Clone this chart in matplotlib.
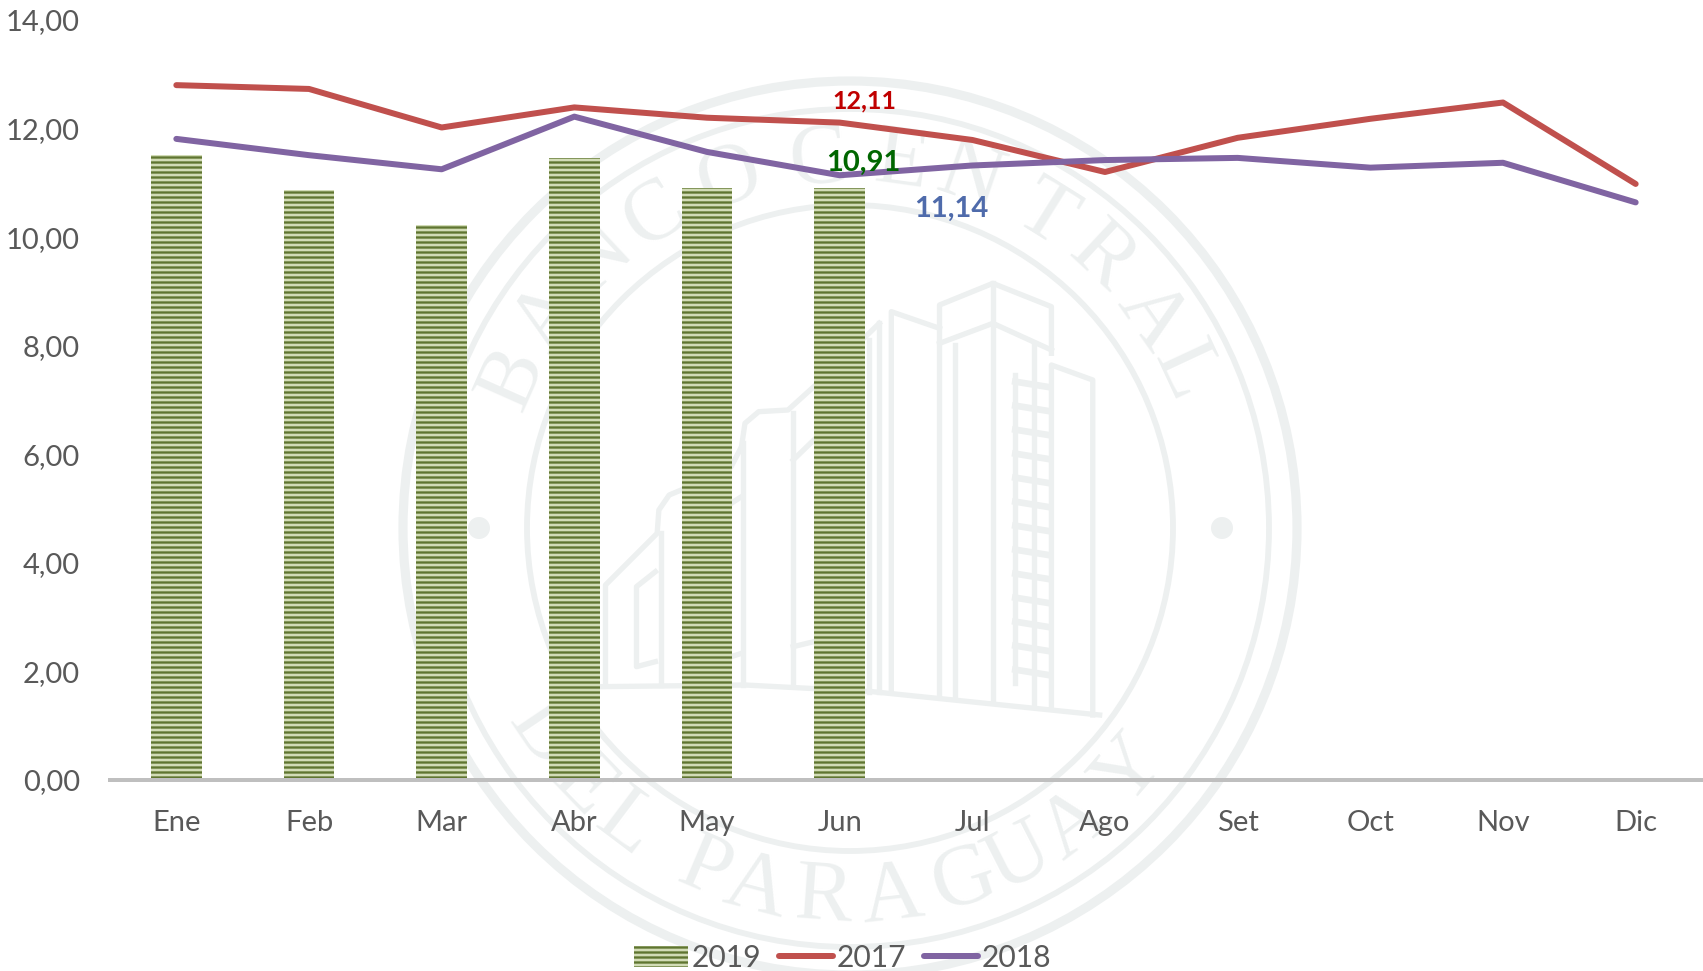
import matplotlib
matplotlib.use("Agg")
import matplotlib.pyplot as plt
import numpy as np

meses = ["Ene", "Feb", "Mar", "Abr", "May", "Jun", "Jul", "Ago", "Set", "Oct", "Nov", "Dic"]
v2017 = [12.80, 12.73, 12.02, 12.39, 12.20, 12.11, 11.79, 11.20, 11.83, 12.18, 12.48, 10.98]
v2018 = [11.81, 11.51, 11.25, 12.22, 11.57, 11.14, 11.32, 11.42, 11.46, 11.28, 11.37, 10.64]
v2019 = [11.52, 10.87, 10.22, 11.45, 10.90, 10.91]
yticks = [0, 2, 4, 6, 8, 10, 12, 14]
ylabels = ["0,00", "2,00", "4,00", "6,00", "8,00", "10,00", "12,00", "14,00"]

plt.rcParams["font.family"] = ["Lato", "DejaVu Sans"]
plt.rcParams["hatch.linewidth"] = 1.4

W, H = 1703, 971
DPI = 120
GRIS = "#595959"
WM = "#edf0f0"

fig = plt.figure(figsize=(W / DPI, H / DPI), dpi=DPI)

# marca de agua, en pixeles de la imagen
bg = fig.add_axes([0, 0, 1, 1], zorder=0)
bg.set_xlim(0, W)
bg.set_ylim(H, 0)
bg.axis("off")
cx, cy = 850, 528
bg.add_patch(plt.Circle((cx, cy), 447, fill=False, ec=WM, lw=5.5))
bg.add_patch(plt.Circle((cx, cy), 419, fill=False, ec=WM, lw=3.5))
bg.add_patch(plt.Circle((cx, cy), 323, fill=False, ec=WM, lw=3.5))
for dx in (-371, 372):
    bg.add_patch(plt.Circle((cx + dx, cy), 11, color=WM, lw=0))

arriba = zip("BANCOCENTRAL", [-66, -55, -43, -32, -19, -5, 8, 19, 32, 43, 55, 65])
abajo = zip("DELPARAGUAY", [-56, -46, -37, -23, -14.6, -4, 6.5, 18, 27, 37, 49])
for c, a in arriba:
    r = np.radians(a)
    bg.text(cx + 368 * np.sin(r), cy - 368 * np.cos(r), c, color=WM, fontsize=52,
            family="Liberation Serif", rotation=-a, rotation_mode="anchor",
            ha="center", va="center")
for c, a in abajo:
    r = np.radians(a)
    bg.text(cx + 372 * np.sin(r), cy + 372 * np.cos(r), c, color=WM, fontsize=52,
            family="Liberation Serif", rotation=a, rotation_mode="anchor",
            ha="center", va="center")

# edificio, trazado sobre el recorte ampliado (x/2.904, y/3)
edificio = [
    [(30, 1250), (450, 1245), (820, 1265), (1480, 1335)],
    [(45, 1245), (45, 945), (195, 790), (200, 720), (230, 675), (265, 660), (410, 590),
     (440, 530), (450, 460), (490, 425), (575, 420), (650, 350), (800, 200), (840, 160)],
    [(205, 1245), (205, 790)],
    [(190, 905), (135, 950), (135, 1190), (190, 1175)],
    [(445, 1245), (445, 520)],
    [(590, 1245), (590, 430)],
    [(590, 570), (650, 510)],
    [(590, 1130), (650, 1115)],
    [(410, 1160), (440, 1150)],
    [(410, 700), (440, 680)],
    [(810, 1265), (810, 210)],
    [(840, 1265), (840, 160)],
    [(875, 1265), (875, 125), (1015, 175)],
    [(1015, 1275), (1015, 105), (1170, 40), (1340, 110), (1340, 250)],
    [(1015, 220), (1170, 160), (1340, 240)],
    [(1170, 40), (1170, 1290)],
    [(1060, 1280), (1060, 225)],
    [(1290, 1300), (1290, 225)],
    [(1340, 1310), (1340, 285), (1460, 330), (1460, 1335)],
    [(1235, 315), (1235, 1240)],
]
for p in edificio:
    xs = [590 + a / 2.904 for a, b in p]
    ys = [270 + b / 3 for a, b in p]
    bg.plot(xs, ys, color=WM, lw=3.2)
for yy in range(335, 1240, 72):
    bg.plot([590 + 1235 / 2.904, 590 + 1325 / 2.904],
            [270 + yy / 3, 270 + (yy + 15) / 3], color=WM, lw=4)

# grafico
ax = fig.add_axes([110 / W, 1 - 780 / H, 1592 / W, 760 / H], zorder=1)
ax.patch.set_alpha(0)
x = np.arange(len(meses))
b19 = ax.bar(x[:len(v2019)], v2019, width=0.38, color="#d2dcb6", edgecolor="#5f7530",
             hatch="----", lw=0, zorder=2)
l17, = ax.plot(x, v2017, color="#c0504d", lw=3.6, solid_capstyle="round", zorder=3)
l18, = ax.plot(x, v2018, color="#8064a2", lw=3.6, solid_capstyle="round", zorder=3)

ax.set_xlim(-0.5, 11.5)
ax.set_ylim(0, 14)
ax.set_xticks(x, meses)
ax.set_yticks(yticks, ylabels)
ax.tick_params(axis="x", length=0, pad=18, labelsize=17.5, labelcolor=GRIS)
ax.tick_params(axis="y", length=0, pad=18, labelsize=17.5, labelcolor=GRIS)
for s in ["top", "left", "right"]:
    ax.spines[s].set_visible(False)
ax.spines["bottom"].set_color("#bfbfbf")
ax.spines["bottom"].set_linewidth(2.4)

ax.annotate("12,11", (5, v2017[5]), xytext=(15, 13), textcoords="offset points",
            color="#c00000", fontsize=15, fontweight="bold", ha="center", va="center")
ax.annotate("10,91", (5, v2019[5]), xytext=(14, 15), textcoords="offset points",
            color="#006600", fontsize=17.5, fontweight="bold", ha="center", va="center")
ax.annotate("11,14", (5, v2018[5]), xytext=(67, -20), textcoords="offset points",
            color="#4f6bab", fontsize=17.5, fontweight="bold", ha="center", va="center")

ax.legend([b19, l17, l18], ["2019", "2017", "2018"], loc="center",
          bbox_to_anchor=(0.46, -0.234), ncols=3, frameon=False, fontsize=18,
          labelcolor=GRIS, handlelength=1.8, handletextpad=0.12,
          columnspacing=0.6, borderpad=0)

fig.savefig("out.png", dpi=DPI)
